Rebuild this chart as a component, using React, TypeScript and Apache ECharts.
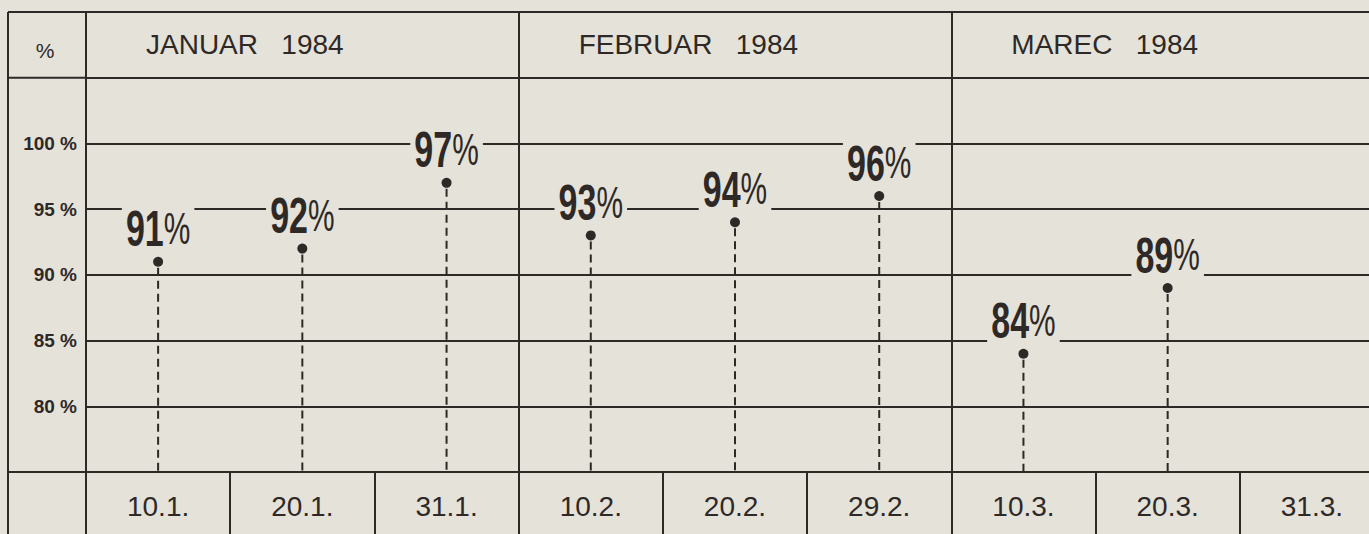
import React, { useEffect, useRef } from "react";
import * as echarts from "echarts";

// ---- data ----
const dates = ["10.1.", "20.1.", "31.1.", "10.2.", "20.2.", "29.2.", "10.3.", "20.3.", "31.3."];
const values: (number | null)[] = [91, 92, 97, 93, 94, 96, 84, 89, null];
const months = ["JANUAR   1984", "FEBRUAR   1984", "MAREC   1984"];
const monthStartIndex = [0, 3, 6];
const yTickLabels = [80, 85, 90, 95, 100];
const Y_MIN = 75;
const Y_MAX = 110;
const Y_STEP = 5;
const HEADER_VALUE = 105;

// ---- style ----
const BG = "#e5e2da";
const INK = "#2e2926";
const FONT = "'Liberation Sans', Arial, Helvetica, sans-serif";

export default function App() {
  const ref = useRef<HTMLDivElement>(null);

  useEffect(() => {
    document.body.style.margin = "0";
    document.body.style.overflow = "hidden";
    const chart = echarts.init(ref.current!, null, { renderer: "svg" });

    const option: any = {
      animation: false,
      backgroundColor: BG,
      grid: { left: 86, right: 0, top: 12, bottom: 62, containLabel: false, outerBoundsMode: "none" },
      xAxis: {
        type: "category",
        data: dates,
        boundaryGap: true,
        axisLine: { show: true, lineStyle: { color: INK, width: 2 } },
        axisTick: { show: true, interval: 0, length: 70, lineStyle: { color: INK, width: 2 } },
        axisLabel: { interval: 0, color: INK, fontSize: 28, fontFamily: FONT, margin: 20 },
        splitLine: {
          show: true,
          interval: (i: number) => i === 3 || i === 6,
          lineStyle: { color: INK, width: 2 },
        },
      },
      yAxis: {
        type: "value",
        min: Y_MIN,
        max: Y_MAX,
        interval: Y_STEP,
        axisLine: { show: true, lineStyle: { color: INK, width: 2 } },
        axisTick: { show: false },
        axisLabel: {
          color: INK,
          fontSize: 19,
          fontWeight: "bold",
          fontFamily: FONT,
          margin: 9,
          formatter: (v: number) => (yTickLabels.includes(v) ? `${v} %` : ""),
        },
        splitLine: { show: true, lineStyle: { color: INK, width: 2 } },
      },
      series: [
        {
          type: "custom",
          clip: false,
          encode: { x: 0, y: 1 },
          data: values
            .map((v, i) => [i, v])
            .filter((d) => d[1] != null),
          renderItem: (params: any, api: any) => {
            const idx = api.value(0);
            const v = api.value(1);
            if (v == null || isNaN(v)) return null;
            const p = api.coord([idx, v]);
            const base = api.coord([idx, Y_MIN]);
            return {
              type: "group",
              children: [
                {
                  type: "line",
                  shape: { x1: p[0], y1: p[1] + 6, x2: p[0], y2: base[1] },
                  style: { stroke: INK, lineWidth: 2, lineDash: [8, 5] },
                },
                {
                  type: "circle",
                  shape: { cx: p[0], cy: p[1], r: 5 },
                  style: { fill: INK },
                },
                {
                  type: "text",
                  x: p[0],
                  y: p[1] - 8,
                  scaleX: 0.68,
                  style: {
                    text: `{n|${v}}{p|%}`,
                    align: "center",
                    verticalAlign: "bottom",
                    backgroundColor: BG,
                    padding: [0, 6, 0, 6],
                    rich: {
                      n: { fontSize: 50, fontWeight: "bold", fontFamily: FONT, fill: INK },
                      p: { fontSize: 44, fontFamily: FONT, fill: INK },
                    },
                  },
                },
              ],
            };
          },
        },
      ],
    };
    chart.setOption(option);

    const c0 = chart.convertToPixel({ xAxisIndex: 0 }, 0) as number;
    const c1 = chart.convertToPixel({ xAxisIndex: 0 }, 1) as number;
    const bw = c1 - c0;
    const yTop = chart.convertToPixel({ yAxisIndex: 0 }, Y_MAX) as number;
    const yHead = chart.convertToPixel({ yAxisIndex: 0 }, HEADER_VALUE) as number;
    const yBot = chart.convertToPixel({ yAxisIndex: 0 }, Y_MIN) as number;
    const left = 8;
    const axisX = c0 - bw / 2;
    const lineStyle = { stroke: INK, lineWidth: 2 };

    const graphic: any[] = [
      { type: "line", shape: { x1: left, y1: yTop, x2: left, y2: 534 }, style: lineStyle },
      { type: "line", shape: { x1: left, y1: yTop, x2: axisX, y2: yTop }, style: lineStyle },
      { type: "line", shape: { x1: left, y1: yHead, x2: axisX, y2: yHead }, style: lineStyle },
      { type: "line", shape: { x1: left, y1: yBot, x2: axisX, y2: yBot }, style: lineStyle },
      {
        type: "text",
        x: (left + axisX) / 2 - 2,
        y: (yTop + yHead) / 2 + 6,
        style: { text: "%", fontSize: 21, fontFamily: FONT, fill: INK, align: "center", verticalAlign: "middle" },
      },
    ];
    months.forEach((m, k) => {
      const startX = (chart.convertToPixel({ xAxisIndex: 0 }, monthStartIndex[k]) as number) - bw / 2;
      graphic.push({
        type: "text",
        x: startX + 60,
        y: (yTop + yHead) / 2,
        style: { text: m, fontSize: 28, fontFamily: FONT, fill: INK, align: "left", verticalAlign: "middle" },
      });
    });
    chart.setOption({ graphic });

    return () => chart.dispose();
  }, []);

  return <div ref={ref} style={{ width: 1384, height: 534 }} />;
}
